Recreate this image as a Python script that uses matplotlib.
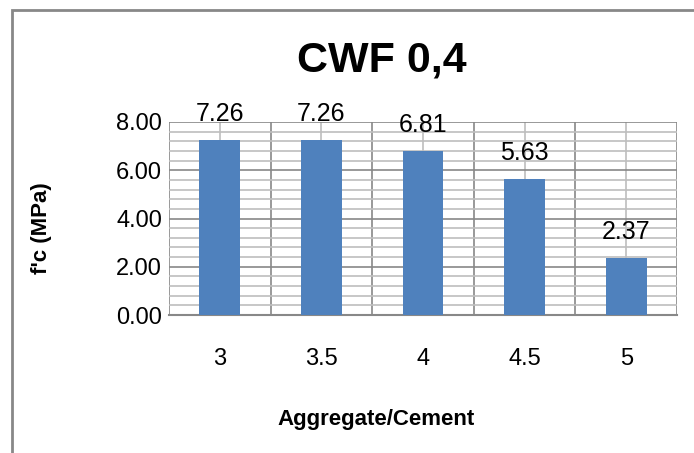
import numpy as np
import matplotlib as mpl
mpl.use('Agg')
import matplotlib.pyplot as plt
from matplotlib.ticker import MultipleLocator
from matplotlib.patches import Rectangle

# chart data
ratios = ['3', '3.5', '4', '4.5', '5']
strength = [7.26, 7.26, 6.81, 5.63, 2.37]

plt.rcParams['font.family'] = ['Liberation Sans', 'DejaVu Sans']

fig = plt.figure(figsize=(6.94, 4.53), dpi=100)
ax = fig.add_axes([169/694, 1 - 315/453, (677-169)/694, (315-122)/453])

x = np.arange(len(ratios))
ax.bar(x, strength, width=0.4, color='#4F81BD', zorder=3)

ax.set_xlim(-0.5, len(ratios) - 0.5)
ax.set_ylim(0, 8)

# excel style grid: major + minor lines both ways
ax.yaxis.set_major_locator(MultipleLocator(2))
ax.yaxis.set_minor_locator(MultipleLocator(0.4))
ax.set_xticks(x)
ax.set_xticks(np.arange(-0.5, len(ratios)), minor=True)
ax.set_xticklabels(ratios)
ax.yaxis.set_major_formatter(mpl.ticker.FormatStrFormatter('%.2f'))

ax.grid(which='major', axis='y', color='#888888', lw=1.2, zorder=0)
ax.grid(which='minor', axis='y', color='#BEBEBE', lw=1.2, zorder=0)
ax.grid(which='minor', axis='x', color='#888888', lw=1.2, zorder=0)
ax.grid(which='major', axis='x', color='#BEBEBE', lw=1.2, zorder=0)

for s in ['top', 'right', 'left']:
    ax.spines[s].set_visible(False)
ax.spines['bottom'].set_color('#888888')
ax.spines['bottom'].set_linewidth(1.5)
ax.tick_params(which='both', length=0)
ax.tick_params(axis='y', labelsize=17, pad=5)
ax.tick_params(axis='x', labelsize=17, pad=24)

for xi, v in zip(x, strength):
    ax.annotate(f'{v:.2f}', (xi, v), xytext=(0, 10), textcoords='offset points',
                ha='center', va='bottom', fontsize=18)

fig.text(41/694, 1 - 228/453, "f'c (MPa)", rotation=90, ha='center', va='center',
         fontsize=16, fontweight='bold')
fig.text(376/694, 1 - 420/453, 'Aggregate/Cement', ha='center', va='center',
         fontsize=16, fontweight='bold')

fig.text(382/694, 1 - 60/453, 'CWF 0,4', ha='center', va='center',
         fontsize=31, fontweight='bold')

# outer chart border (extends beyond the image at right and bottom)
fig.patches.append(Rectangle((12/694, -0.1), 1.2, 1 - 10/453 + 0.1,
                             transform=fig.transFigure, fill=False,
                             edgecolor='#888888', lw=2))

fig.savefig('out.png', dpi=100)
